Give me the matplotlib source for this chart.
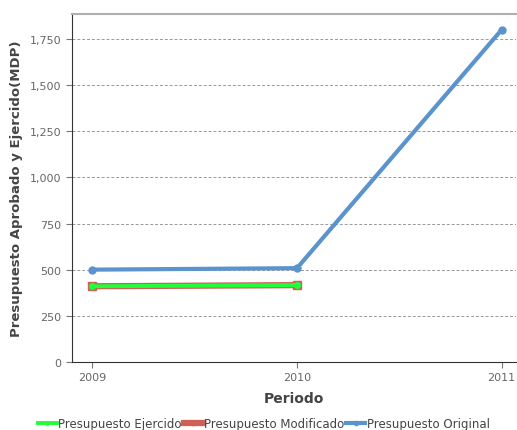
import matplotlib
matplotlib.use("Agg")
import matplotlib.pyplot as plt
from matplotlib.ticker import FuncFormatter

years = [2009, 2010, 2011]
ejercido_years = [2009, 2010]
ejercido = [410, 416]
modificado_years = [2009, 2010]
modificado = [410, 416]
original = [500, 508, 1800]
yticks = [0, 250, 500, 750, 1000, 1250, 1500, 1750]

plt.rcParams['font.family'] = ['DejaVu Sans']
fig = plt.figure(figsize=(5.17, 4.31), dpi=100)
ax = fig.add_axes([0.139, 0.158, 0.859, 0.807])

ax.plot(years, original, color='#5b93cc', lw=3.0, marker='o', ms=5, label='Presupuesto Original', zorder=3)
ax.plot(modificado_years, modificado, color='#d05f58', lw=4.5, marker='s', ms=6, label='Presupuesto Modificado', zorder=4)
ax.plot(ejercido_years, ejercido, color='#1fff3a', lw=2.8, marker='o', ms=4, label='Presupuesto Ejercido', zorder=5)

ax.set_xlim(2008.9, 2011.07)
ax.set_ylim(0, 1885)
ax.set_xticks(years)
ax.set_yticks(yticks)
ax.yaxis.set_major_formatter(FuncFormatter(lambda v, p: f"{int(v):,}"))
ax.grid(axis='y', linestyle=(0, (3, 2)), color='#999999', lw=0.7)
ax.set_axisbelow(True)
ax.spines['right'].set_visible(False)
ax.spines['top'].set_color('#b0b0b0')
ax.spines['top'].set_linewidth(1.5)
ax.spines['left'].set_color('#333333')
ax.spines['bottom'].set_color('#333333')
ax.tick_params(axis='both', colors='#777777', labelsize=8, length=4, labelcolor='#666666')
ax.set_xlabel('Periodo', fontsize=10, fontweight='bold', color='#444444', labelpad=6)
ax.set_ylabel('Presupuesto Aprobado y Ejercido(MDP)', fontsize=9.5, fontweight='bold', color='#444444', labelpad=5)

handles, labels = ax.get_legend_handles_labels()
order = [2, 1, 0]
leg = fig.legend([handles[i] for i in order], [labels[i] for i in order], loc='lower center',
                 bbox_to_anchor=(0.51, -0.02), ncol=3, frameon=False, fontsize=8.5,
                 handlelength=1.6, handletextpad=0.1, columnspacing=0.2, labelcolor='#444444',
                 markerscale=0.6, borderaxespad=0.3)
fig.savefig('out.png', dpi=100)
